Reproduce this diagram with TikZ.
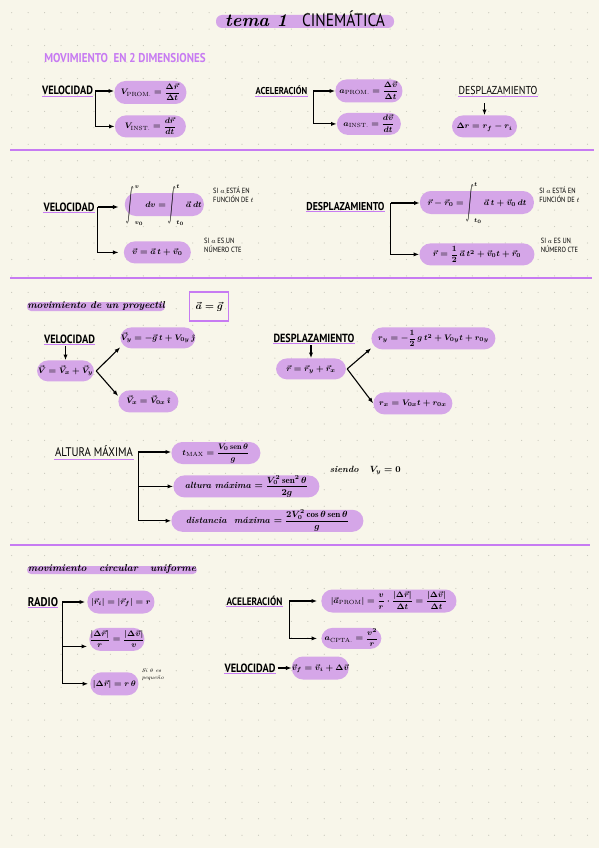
\documentclass[tikz,border=0pt]{standalone}
\usepackage{amsmath,amssymb}
\usepackage{xcolor}
\usepackage{fontspec}
\usepackage{tikz}
\usetikzlibrary{positioning,arrows.meta}
\newfontfamily\handfont[FakeStretch=0.86]{PT Sans}
\definecolor{paper}{HTML}{F8F6EA}
\definecolor{griddot}{HTML}{C9C8BC}
\definecolor{lilac}{HTML}{D5A6E8}
\definecolor{violet}{HTML}{C77BF2}
\newcommand{\tallint}{\mathop{\vcenter{\hbox{\scalebox{0.9}[2.1]{$\displaystyle\int$}}}}\nolimits}

\begin{document}
\begin{tikzpicture}[
    x=1pt, y=-1pt,
    pill/.style={fill=lilac, rounded corners=11pt, inner sep=0pt, minimum height=22pt, text height=5pt, text depth=0pt, align=center, font=\footnotesize\boldmath},
    band/.style={fill=lilac, rounded corners=4pt, inner sep=0pt, text height=3pt, text depth=0pt, align=center, font=\fontsize{10}{11}\selectfont\itshape\bfseries},
    head/.style={inner xsep=0pt, inner ysep=1pt, text height=8pt, text depth=0pt, font=\handfont\bfseries\fontsize{#1}{#1}\selectfont, append after command={(\tikzlastnode.south west) edge[uline] (\tikzlastnode.south east)}},
    uline/.style={draw=violet, line width=1pt},
    note/.style={inner sep=0pt, align=left, font=\handfont\fontsize{7.5}{9.5}\selectfont},
    rule/.style={draw=violet, line width=1.2pt},
    arr/.style={-{Latex[length=2mm]}, line width=1.1pt, draw=black}
]
    \fill[paper] (0,0) rectangle (599,848);
    \useasboundingbox (0,0) rectangle (599,848);
    \foreach \i in {0,...,35}
        \foreach \j in {0,...,50}
            \fill[griddot] (11.7+16.45*\i,12.7+16.45*\j) circle (0.6pt);

    \node[band, rounded corners=6pt, minimum width=178pt, minimum height=13pt, text height=11pt, font=\normalfont] (title) at (305,21.5)
        {\fontsize{18}{18}\selectfont\itshape\bfseries tema 1\ \ \normalfont\handfont CINEMÁTICA};
    \node[inner sep=0pt, text=violet, font=\handfont\bfseries\fontsize{12.8}{13}\selectfont] (mov2d) at (125,58) {MOVIMIENTO\ \ EN 2 DIMENSIONES};

    % velocidad y aceleracion
    \node[head=12, minimum width=51pt] (velA) at (67.5,91) {VELOCIDAD};
    \node[pill, minimum width=72pt, minimum height=23pt, right=21pt of velA, yshift=-1.5pt] (vprom) {$V_{\text{PROM.}}=\dfrac{\Delta\vec{r}}{\Delta t}$};
    \node[pill, minimum width=71pt, below=11pt of vprom] (vinst) {$V_{\text{INST.}}=\dfrac{d\vec{r}}{dt}$};
    \coordinate[right=2pt of velA] (brA);
    \draw[arr] (brA) -- (brA -| vprom.west);
    \draw[arr] (brA) |- (vinst.west);

    \node[head=10, minimum width=53pt] (acelA) at (281.5,91) {ACELERACIÓN};
    \node[pill, minimum width=67pt, minimum height=23pt, right=27pt of acelA] (aprom) {$a_{\text{PROM.}}=\dfrac{\Delta\vec{v}}{\Delta t}$};
    \node[pill, minimum width=64pt, below=10pt of aprom] (ainst) {$a_{\text{INST.}}=\dfrac{d\vec{v}}{dt}$};
    \coordinate[right=5pt of acelA] (brB);
    \draw[arr] (brB) -- (brB -| aprom.west);
    \draw[arr] (brB) |- (ainst.west);

    \node[head=11, minimum width=80pt, font=\handfont\mdseries\fontsize{11.5}{12}\selectfont] (despA) at (498,91) {DESPLAZAMIENTO};
    \node[pill, minimum width=65pt, below=19pt of despA, xshift=-13.5pt] (ddr) {$\Delta r=r_f-r_i$};
    \draw[arr, shorten <=7pt] (despA.south -| ddr.north) -- (ddr.north);

    \draw[rule] (10,150) -- (594,150);

    % integrales
    \node[head=12, minimum width=50pt] (velB) at (69,207) {VELOCIDAD};
    \node[pill, minimum width=79pt, minimum height=23pt, right=30pt of velB, yshift=2.5pt] (dint) {\makebox[79pt]{$\tallint_{v_0}^{v}dv=\tallint_{t_0}^{t}\vec{a}\,dt$}};
    \node[pill, minimum width=67pt, below=25pt of dint, xshift=-7pt] (vct) {$\vec{v}=\vec{a}\,t+\vec{v}_0$};
    \coordinate[right=3pt of velB] (brC);
    \draw[arr, shorten >=6pt] (brC) -- (brC -| dint.west);
    \draw[arr, shorten >=5pt] (brC) |- (vct.west);
    \node[note, right=9pt of dint, yshift=9.5pt] (nt1) {SI $a$ ESTÁ EN\\FUNCIÓN DE $t$};
    \node[note, right=13pt of vct, yshift=7pt] (nt2) {SI $a$ ES UN\\NÚMERO CTE};

    \node[head=11.4, minimum width=77pt] (despB) at (345.5,206) {DESPLAZAMIENTO};
    \node[pill, minimum width=114pt, minimum height=23pt, right=35pt of despB, yshift=3.5pt] (rint) {$\vec{r}-\vec{r}_0=\tallint_{t_0}^{t}\vec{a}\,t+\vec{v}_0\,dt$};
    \node[pill, minimum width=115pt, below=29pt of rint] (rct) {$\vec{r}=\dfrac{1}{2}\,\vec{a}\,t^2+\vec{v}_0t+\vec{r}_0$};
    \coordinate[right=6pt of despB, yshift=3pt] (brD);
    \draw[arr] (brD) -- (brD -| rint.west);
    \draw[arr] (brD) |- (rct.west);
    \node[note, right=5pt of rint, yshift=7.5pt] (nt3) {SI $a$ ESTÁ EN\\FUNCIÓN DE $t$};
    \node[note, right=6pt of rct, yshift=9pt] (nt4) {SI $a$ ES UN\\NÚMERO CTE};

    \draw[rule] (10,278) -- (592,278);

    % proyectil
    \node[band, minimum width=138pt, minimum height=9pt] (tit3) at (96,306.5) {movimiento de un proyectil};
    \node[draw=violet, line width=1.2pt, minimum width=39pt, minimum height=29pt, inner sep=0pt, right=24pt of tit3, font=\normalsize\boldmath] (boxag) {$\vec{a}=\vec{g}$};

    \node[head=12, minimum width=51pt] (velC) at (69.5,339) {VELOCIDAD};
    \node[pill, minimum width=57pt, minimum height=21pt, below=16pt of velC, xshift=-4pt] (vvec) {$\vec{V}=\vec{V}_x+\vec{V}_y$};
    \draw[arr, shorten <=2pt] (velC.south -| vvec.north) -- (vvec.north);
    \node[pill, minimum width=75pt, minimum height=21pt, right=26pt of vvec, yshift=33pt] (vvy) {$\vec{V}_y=-\vec{g}\,t+V_{0y}\,\hat{\jmath}$};
    \node[pill, minimum width=60pt, right=24pt of vvec, yshift=-30.5pt] (vvx) {$\vec{V}_x=\vec{V}_{0x}\,\hat{\imath}$};
    \coordinate[right=2pt of vvec] (brE);
    \draw[arr] (brE) -- (vvy.194);
    \draw[arr] (brE) -- (vvx.170);

    \node[head=11.8, minimum width=80pt] (despC) at (314,338) {DESPLAZAMIENTO};
    \node[pill, minimum width=70pt, minimum height=21pt, below=15pt of despC, xshift=-3pt] (rvec) {$\vec{r}=\vec{r}_y+\vec{r}_x$};
    \draw[arr, shorten <=2pt] (despC.south -| rvec.north) -- (rvec.north);
    \node[pill, minimum width=124pt, right=25pt of rvec, yshift=30.5pt] (rry) {$r_y=-\dfrac{1}{2}\,g\,t^2+V_{0y}t+r_{0y}$};
    \node[pill, minimum width=79pt, right=27pt of rvec, yshift=-34.5pt] (rrx) {$r_x=V_{0x}t+r_{0x}$};
    \coordinate[right=1pt of rvec] (brF);
    \draw[arr] (brF) -- (rry.189);
    \draw[arr] (brF) -- (rrx.west);

    \node[head=12.5, minimum width=80pt, minimum height=14pt, font=\handfont\mdseries\fontsize{12.5}{13}\selectfont] (altA) at (94,452) {ALTURA MÁXIMA};
    \node[pill, minimum width=89pt, right=37pt of altA, yshift=-1pt] (tmax) {$t_{\text{MAX}}=\dfrac{V_0\operatorname{sen}\theta}{g}$};
    \node[pill, minimum width=146pt, below=11pt of tmax, xshift=30.5pt, font=\small\bfseries\boldmath] (altm) {\itshape altura\ máxima $=\dfrac{V_0^2\operatorname{sen}^2\theta}{2g}$};
    \node[pill, minimum width=192pt, below=12pt of altm, xshift=21pt, font=\small\bfseries\boldmath] (dist) {\itshape distancia\ \ máxima $=\dfrac{2V_0^2\cos\theta\operatorname{sen}\theta}{g}$};
    \coordinate[right=4pt of altA] (brG);
    \draw[arr] (brG) -- (brG -| tmax.west);
    \draw[arr] (brG) |- (altm.west);
    \draw[arr] (brG) |- (dist.west);
    \node[inner sep=0pt, right=10pt of altm, yshift=16pt, font=\small\itshape\bfseries\boldmath] (siendo) {siendo\ \ \ $V_y=0$};

    \draw[rule] (10,545) -- (590,545);

    % circular
    \node[band, minimum width=170pt, minimum height=8pt] (tit4) at (112,570) {movimiento\ \ \ circular\ \ \ uniforme};

    \node[head=12.6, minimum width=30pt] (radA) at (43,602) {RADIO};
    \node[pill, minimum width=67pt, minimum height=23pt, right=29pt of radA] (pr1) {$|\vec{r}_i|=|\vec{r}_f|=r$};
    \node[pill, minimum width=53pt, minimum height=23pt, below=14pt of pr1, xshift=-4pt] (pr2) {$\dfrac{|\Delta\vec{r}|}{r}=\dfrac{|\Delta\vec{v}|}{v}$};
    \node[pill, minimum width=48pt, minimum height=23pt, below=21pt of pr2, xshift=-2.5pt] (pr3) {$|\Delta\vec{r}|=r\,\theta$};
    \coordinate[right=4pt of radA] (brH);
    \draw[arr, shorten >=2pt] (brH) -- (brH -| pr1.west);
    \draw[arr, shorten >=2pt] (brH) |- ([yshift=-7pt]pr2.west);
    \draw[arr, shorten >=2pt] (brH) |- (pr3.west);
    \node[note, right=3pt of pr3, yshift=9pt, font=\itshape\fontsize{5.5}{6.5}\selectfont] (nt5) {Si $\theta$ es\\pequeño};

    \node[head=10.8, minimum width=57pt] (acelB) at (254.5,601) {ACELERACIÓN};
    \node[pill, minimum width=135pt, minimum height=23pt, right=38pt of acelB] (ap1) {$|\vec{a}_{\text{PROM}}|=\dfrac{v}{r}\cdot\dfrac{|\Delta\vec{r}|}{\Delta t}=\dfrac{|\Delta\vec{v}|}{\Delta t}$};
    \node[pill, minimum width=60pt, minimum height=21pt, below=15pt of ap1, xshift=-37.5pt] (ap2) {$a_{\text{CPTA.}}=\dfrac{v^2}{r}$};
    \coordinate[right=6pt of acelB] (brI);
    \draw[arr, shorten >=4pt] (brI) -- (brI -| ap1.west);
    \draw[arr, shorten >=4pt] (brI) |- (ap2.west);

    \node[head=12, minimum width=50pt] (velD) at (250,668) {VELOCIDAD};
    \node[pill, minimum width=56pt, minimum height=23pt, right=16pt of velD] (vf) {$\vec{v}_f=\vec{v}_i+\Delta\vec{v}$};
    \draw[arr, shorten <=2pt] (velD.east) -- (vf.west);
\end{tikzpicture}
\end{document}
